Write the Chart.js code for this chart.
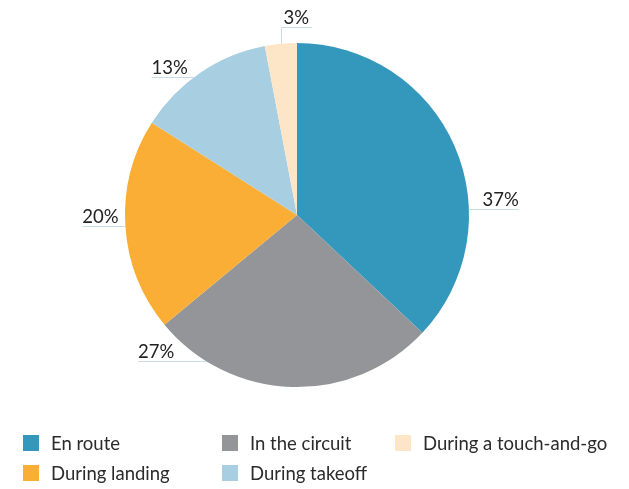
<!DOCTYPE html>
<html>
<head>
<meta charset="utf-8">
<script src="https://cdn.jsdelivr.net/npm/chart.js@4"></script>
<style>
  body { margin: 0; background: #fff; }
  #wrap { position: relative; width: 629px; height: 489px; }
  #chart { position: absolute; left: 0; top: 0; }
  #legend { position: absolute; left: 0; top: 0; width: 629px; height: 489px; font-family: Lato, "Open Sans", sans-serif; font-size: 18.5px; color: #2b2b2b; }
  .item { position: absolute; display: flex; align-items: center; white-space: nowrap; height: 16px; line-height: 16px; }
  .box { width: 16px; height: 16px; margin-right: 12px; }
</style>
</head>
<body>
<div id="wrap">
  <canvas id="chart" width="629" height="489"></canvas>
  <div id="legend"></div>
</div>
<script>
const labels = ['En route', 'In the circuit', 'During landing', 'During takeoff', 'During a touch-and-go'];
const shares = [37, 27, 20, 13, 3];
const colors = ['#3498bd', '#939598', '#fbae36', '#a8cee2', '#fde5c7'];
const legendOrder = [0, 1, 4, 2, 3];

// where each percent label sits (fraction along the slice, line length)
const labelSpots = [
    { frac: 0.66, len: 50 },
    { frac: 0.81, len: 68 },
    { frac: 0.5, len: 43 },
    { frac: 0.45, len: 43 },
    { frac: 0.5, up: 17, len: 31 }
];

const pctLabels = {
    id: 'pctLabels',
    afterDraw(chart) {
        const ctx = chart.ctx;
        const arcs = chart.getDatasetMeta(0).data;
        ctx.save();
        ctx.font = '18.5px Lato, "Open Sans", sans-serif';
        ctx.fillStyle = '#222';
        ctx.strokeStyle = '#c9dde6';
        ctx.lineWidth = 1;
        arcs.forEach((arc, i) => {
            const spot = labelSpots[i];
            const a = arc.startAngle + spot.frac * (arc.endAngle - arc.startAngle);
            const ex = arc.x + arc.outerRadius * Math.cos(a);
            const ey = arc.y + arc.outerRadius * Math.sin(a);
            const text = shares[i] + '%';
            ctx.beginPath();
            if (spot.up) {
                const ty = Math.round(ey - spot.up) + 0.5;
                ctx.moveTo(Math.round(ex) + 0.5, ey);
                ctx.lineTo(Math.round(ex) + 0.5, ty);
                ctx.lineTo(ex + spot.len, ty);
                ctx.stroke();
                ctx.textAlign = 'center';
                ctx.textBaseline = 'alphabetic';
                ctx.fillText(text, ex + spot.len / 2, ty - 4);
            } else {
                const dir = Math.cos(a) >= 0 ? 1 : -1;
                const ly = Math.round(ey) + 0.5;
                const endX = ex + dir * spot.len;
                ctx.moveTo(ex, ly);
                ctx.lineTo(endX, ly);
                ctx.stroke();
                ctx.textAlign = dir > 0 ? 'right' : 'left';
                ctx.textBaseline = 'alphabetic';
                ctx.fillText(text, endX, ly - 4);
            }
        });
        ctx.restore();
    }
};

new Chart(document.getElementById('chart').getContext('2d'), {
    type: 'pie',
    data: {
        labels: labels,
        datasets: [{
            data: shares,
            backgroundColor: colors,
            borderWidth: 0
        }]
    },
    options: {
        responsive: false,
        animation: false,
        layout: { padding: { top: 43, bottom: 102, left: 0, right: 35 } },
        plugins: {
            legend: { display: false },
            tooltip: { enabled: false }
        }
    },
    plugins: [pctLabels]
});

// legend in three columns, row by row
const colX = [23, 222, 395];
const rowY = [435, 465];
const legend = document.getElementById('legend');
legendOrder.forEach((idx, n) => {
    const item = document.createElement('div');
    item.className = 'item';
    item.style.left = colX[n % 3] + 'px';
    item.style.top = rowY[Math.floor(n / 3)] + 'px';
    item.innerHTML = '<span class="box" style="background:' + colors[idx] + '"></span><span>' + labels[idx] + '</span>';
    legend.appendChild(item);
});
</script>
</body>
</html>
